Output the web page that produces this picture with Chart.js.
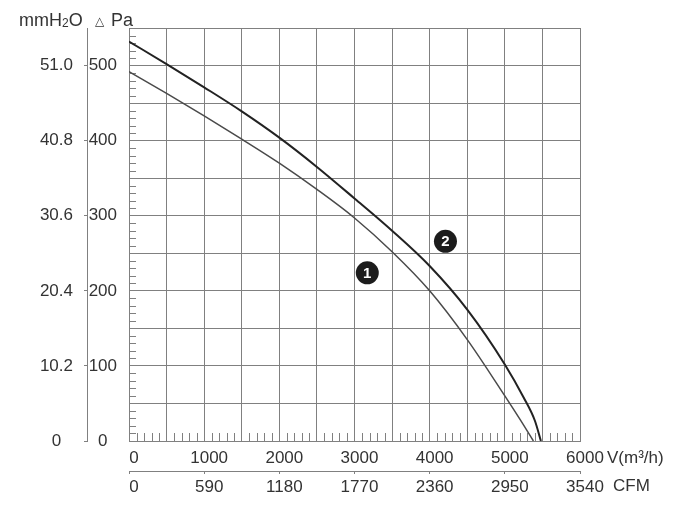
<!DOCTYPE html>
<html lang="en">
<head>
<meta charset="UTF-8">
<title>Fan curve</title>
<script src="https://cdn.jsdelivr.net/npm/chart.js"></script>
<style>
  html, body { margin: 0; padding: 0; background: #fff; }
  .chart-box { position: relative; width: 700px; height: 507px; }
</style>
</head>
<body>
<div class="chart-box"><canvas id="chart"></canvas></div>

<script>
    // airflow (m3/h) and static pressure (Pa)
    const flow1 = [0, 500, 1000, 1500, 2000, 2500, 3000, 3500, 4000, 4500, 5000, 5200, 5380];
    const pres1 = [492, 463, 433, 402, 370, 335, 297, 252, 200, 135, 60, 29, 0];
    const flow2 = [0, 500, 1000, 1500, 2000, 2500, 3000, 3500, 4000, 4500, 5000, 5250, 5400, 5480];
    const pres2 = [532, 502, 471, 439, 404, 365, 323, 280, 233, 175, 102, 58, 27, 0];

    // numbered curve markers
    const markerLabels = ['1', '2'];
    const markerFlow = [3170, 4210];
    const markerPres = [224, 266];

    // axes
    const flowMax = 6000;
    const flowLabels = [0, 1000, 2000, 3000, 4000, 5000, 6000];
    const paMax = 550;
    const paLabels = [0, 100, 200, 300, 400, 500];
    const mmLabels = ['0', '10.2', '20.4', '30.6', '40.8', '51.0'];
    const cfmMax = 3540;
    const cfmStep = 590;

    const FONT = '"Liberation Sans", Arial, sans-serif';
    const TXT = '#333';
    const GRID = '#808080';

    function toPoints(xs, ys) {
        return xs.map(function (v, i) { return { x: v, y: ys[i] }; });
    }

    const extras = {
        id: 'extras',
        beforeDatasetsDraw(chart) {
            const ctx = chart.ctx;
            const x = chart.scales.x;
            const y = chart.scales.y;
            ctx.save();
            ctx.strokeStyle = GRID;
            ctx.lineWidth = 1;
            ctx.beginPath();
            // small ticks every 100 m3/h along the bottom
            for (let v = 100; v < flowMax; v += 100) {
                if (v % 500 === 0) continue;
                const px = Math.round(x.getPixelForValue(v)) + 0.5;
                ctx.moveTo(px, y.bottom);
                ctx.lineTo(px, y.bottom - 8);
            }
            // small ticks every 10 Pa on the left
            for (let v = 10; v < paMax; v += 10) {
                if (v % 50 === 0) continue;
                const py = Math.round(y.getPixelForValue(v)) + 0.5;
                ctx.moveTo(x.left, py);
                ctx.lineTo(x.left + 7, py);
            }
            ctx.stroke();
            ctx.restore();
        },
        afterDatasetsDraw(chart) {
            const ctx = chart.ctx;
            const x = chart.scales.x;
            ctx.save();

            // numbers in the markers
            const meta = chart.getDatasetMeta(2);
            ctx.fillStyle = '#fff';
            ctx.font = 'bold 15px ' + FONT;
            ctx.textAlign = 'center';
            ctx.textBaseline = 'middle';
            meta.data.forEach(function (pt, i) {
                ctx.fillText(markerLabels[i], pt.x, pt.y + 1);
            });

            // header: mmH2O  /\ Pa
            ctx.fillStyle = TXT;
            ctx.textAlign = 'left';
            ctx.textBaseline = 'alphabetic';
            ctx.font = '18px ' + FONT;
            let cx = 19;
            ctx.fillText('mmH', cx, 26);
            cx += ctx.measureText('mmH').width;
            ctx.font = '12px ' + FONT;
            ctx.fillText('2', cx, 27);
            cx += ctx.measureText('2').width;
            ctx.font = '18px ' + FONT;
            ctx.fillText('O', cx, 26);
            ctx.font = '12px "DejaVu Sans", sans-serif';
            ctx.fillText('\u25B3', 95, 25);
            ctx.font = '18px ' + FONT;
            ctx.fillText('Pa', 111, 26);

            // unit labels at the right of the bottom axes
            ctx.font = '17px ' + FONT;
            ctx.textBaseline = 'middle';
            ctx.fillText('V(m\u00B3/h)', x.right + 27, 458);
            ctx.fillText('CFM', x.right + 33, 486);
            ctx.restore();
        }
    };

    new Chart(document.getElementById('chart'), {
        type: 'scatter',
        data: {
            datasets: [{
                label: '1',
                data: toPoints(flow1, pres1),
                showLine: true,
                borderColor: '#4a4a4a',
                borderWidth: 1.5,
                pointRadius: 0,
                cubicInterpolationMode: 'monotone'
            }, {
                label: '2',
                data: toPoints(flow2, pres2),
                showLine: true,
                borderColor: '#222',
                borderWidth: 2,
                pointRadius: 0,
                cubicInterpolationMode: 'monotone'
            }, {
                label: 'markers',
                data: toPoints(markerFlow, markerPres),
                showLine: false,
                pointRadius: 11.5,
                pointBackgroundColor: '#1c1c1c',
                pointBorderWidth: 0
            }]
        },
        options: {
            responsive: true,
            maintainAspectRatio: false,
            animation: false,
            layout: { padding: { top: 28, right: 120, bottom: 0, left: 0 } },
            plugins: {
                legend: { display: false },
                tooltip: { enabled: false }
            },
            scales: {
                x: {
                    type: 'linear',
                    position: 'bottom',
                    min: 0,
                    max: flowMax,
                    afterFit: function (s) { s.height = 30; },
                    grid: { color: GRID, lineWidth: 1, drawTicks: false },
                    border: { color: GRID },
                    ticks: {
                        stepSize: 500,
                        autoSkip: false,
                        maxRotation: 0,
                        padding: 7,
                        labelOffset: 5,
                        color: TXT,
                        font: { family: FONT, size: 17 },
                        callback: function (v) { return flowLabels.includes(v) ? String(v) : ''; }
                    }
                },
                x2: {
                    type: 'linear',
                    position: 'bottom',
                    weight: 10,
                    min: 0,
                    max: cfmMax,
                    afterFit: function (s) { s.height = 36; },
                    grid: { drawOnChartArea: false, color: GRID, tickLength: 3 },
                    border: { color: GRID },
                    ticks: {
                        stepSize: cfmStep,
                        autoSkip: false,
                        maxRotation: 0,
                        padding: 3,
                        labelOffset: 5,
                        color: TXT,
                        font: { family: FONT, size: 17 },
                        callback: function (v) { return String(v); }
                    }
                },
                y: {
                    type: 'linear',
                    position: 'left',
                    min: 0,
                    max: paMax,
                    afterFit: function (s) { s.width = 42; },
                    grid: { color: GRID, lineWidth: 1, drawTicks: false },
                    border: { color: GRID },
                    ticks: {
                        stepSize: 50,
                        autoSkip: false,
                        padding: 12,
                        crossAlign: 'center',
                        color: TXT,
                        font: { family: FONT, size: 17 },
                        callback: function (v) { return paLabels.includes(v) ? String(v) : ''; }
                    }
                },
                y2: {
                    type: 'linear',
                    position: 'left',
                    weight: 10,
                    min: 0,
                    max: paMax,
                    afterFit: function (s) { s.width = 87; },
                    afterBuildTicks: function (s) {
                        s.ticks = paLabels.map(function (v) { return { value: v }; });
                    },
                    grid: { drawOnChartArea: false, color: GRID, tickLength: 3 },
                    border: { color: GRID },
                    ticks: {
                        autoSkip: false,
                        padding: 11,
                        crossAlign: 'center',
                        color: TXT,
                        font: { family: FONT, size: 17 },
                        callback: function (v, i) { return mmLabels[i]; }
                    }
                }
            }
        },
        plugins: [extras]
    });
</script>
</body>
</html>
